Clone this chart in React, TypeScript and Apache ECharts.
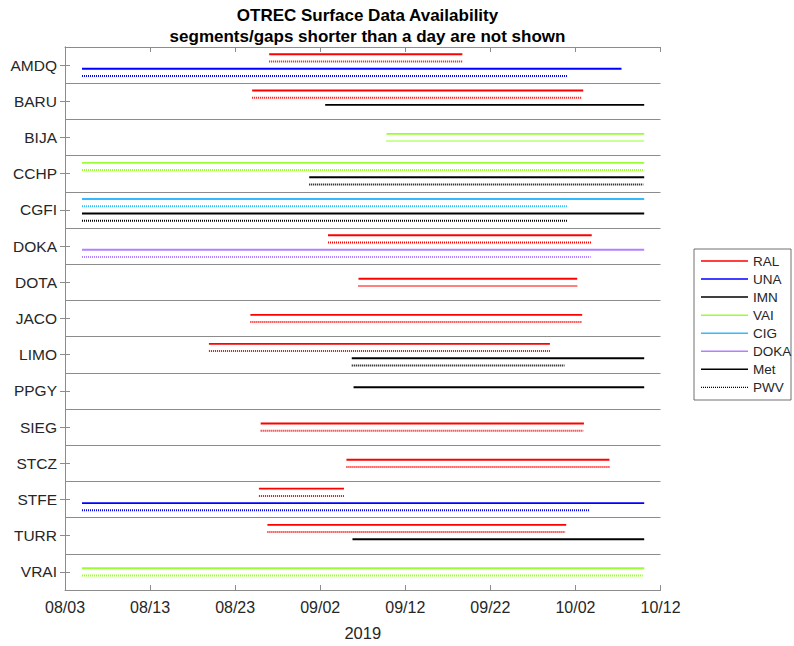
import React, { useEffect, useRef } from "react";
import * as echarts from "echarts";

const FONT = '"Liberation Sans", Arial, Helvetica, sans-serif';

const STATIONS = ["AMDQ", "BARU", "BIJA", "CCHP", "CGFI", "DOKA", "DOTA", "JACO", "LIMO", "PPGY", "SIEG", "STCZ", "STFE", "TURR", "VRAI"];
const OPERATORS = ["RAL", "UNA", "IMN", "VAI", "CIG", "DOKA"];
const OPERATOR_COLORS = ["#ff0000", "#0000ff", "#000000", "#99ff33", "#33bbff", "#b380ff"];
const KINDS = ["Met", "PWV"];
const X_TICK_START = "2019-08-03 00:00";
const X_TICK_END = "2019-10-12 00:00";
const X_NAME = "2019";
const TITLE = "OTREC Surface Data Availability\nsegments/gaps shorter than a day are not shown";

// [operator, kind, start, end]
const AMDQ = [
  ["RAL", "Met", "2019-08-27 00:00", "2019-09-18 17:00"],
  ["RAL", "PWV", "2019-08-27 00:00", "2019-09-18 17:00"],
  ["UNA", "Met", "2019-08-05 00:00", "2019-10-07 10:00"],
  ["UNA", "PWV", "2019-08-05 00:00", "2019-10-01 02:00"],
];
const BARU = [
  ["RAL", "Met", "2019-08-25 00:00", "2019-10-02 22:00"],
  ["RAL", "PWV", "2019-08-25 00:00", "2019-10-02 19:00"],
  ["IMN", "Met", "2019-09-02 14:00", "2019-10-10 02:00"],
];
const BIJA = [
  ["VAI", "Met", "2019-09-09 19:00", "2019-10-10 02:00"],
  ["VAI", "PWV", "2019-09-09 19:00", "2019-10-10 02:00"],
];
const CCHP = [
  ["VAI", "Met", "2019-08-05 00:00", "2019-10-10 02:00"],
  ["VAI", "PWV", "2019-08-05 00:00", "2019-10-10 02:00"],
  ["IMN", "Met", "2019-08-31 17:00", "2019-10-10 02:00"],
  ["IMN", "PWV", "2019-08-31 17:00", "2019-10-10 00:00"],
];
const CGFI = [
  ["CIG", "Met", "2019-08-05 00:00", "2019-10-10 02:00"],
  ["CIG", "PWV", "2019-08-05 00:00", "2019-10-01 00:00"],
  ["IMN", "Met", "2019-08-05 00:00", "2019-10-10 02:00"],
  ["IMN", "PWV", "2019-08-05 00:00", "2019-10-01 02:00"],
];
const DOKA = [
  ["RAL", "Met", "2019-09-02 22:00", "2019-10-03 22:00"],
  ["RAL", "PWV", "2019-09-02 22:00", "2019-10-03 22:00"],
  ["DOKA", "Met", "2019-08-05 00:00", "2019-10-10 02:00"],
  ["DOKA", "PWV", "2019-08-05 00:00", "2019-10-03 19:00"],
];
const DOTA = [
  ["RAL", "Met", "2019-09-06 12:00", "2019-10-02 05:00"],
  ["RAL", "PWV", "2019-09-06 12:00", "2019-10-02 05:00"],
];
const JACO = [
  ["RAL", "Met", "2019-08-24 19:00", "2019-10-02 19:00"],
  ["RAL", "PWV", "2019-08-24 19:00", "2019-10-02 19:00"],
];
const LIMO = [
  ["RAL", "Met", "2019-08-19 22:00", "2019-09-29 00:00"],
  ["RAL", "PWV", "2019-08-19 22:00", "2019-09-29 00:00"],
  ["IMN", "Met", "2019-09-05 17:00", "2019-10-10 02:00"],
  ["IMN", "PWV", "2019-09-05 17:00", "2019-09-30 17:00"],
];
const PPGY = [
  ["IMN", "Met", "2019-09-05 22:00", "2019-10-10 02:00"],
];
const SIEG = [
  ["RAL", "Met", "2019-08-26 00:00", "2019-10-03 00:00"],
  ["RAL", "PWV", "2019-08-26 00:00", "2019-10-02 22:00"],
];
const STCZ = [
  ["RAL", "Met", "2019-09-05 02:00", "2019-10-06 00:00"],
  ["RAL", "PWV", "2019-09-05 02:00", "2019-10-06 00:00"],
];
const STFE = [
  ["RAL", "Met", "2019-08-25 19:00", "2019-09-04 19:00"],
  ["RAL", "PWV", "2019-08-25 19:00", "2019-09-04 19:00"],
  ["UNA", "Met", "2019-08-05 00:00", "2019-10-10 02:00"],
  ["UNA", "PWV", "2019-08-05 00:00", "2019-10-03 17:00"],
];
const TURR = [
  ["RAL", "Met", "2019-08-26 19:00", "2019-09-30 22:00"],
  ["RAL", "PWV", "2019-08-26 19:00", "2019-09-30 20:00"],
  ["IMN", "Met", "2019-09-05 19:00", "2019-10-10 02:00"],
];
const VRAI = [
  ["VAI", "Met", "2019-08-05 00:00", "2019-10-10 02:00"],
  ["VAI", "PWV", "2019-08-05 00:00", "2019-10-09 22:00"],
];

const SEGMENTS_BY_STATION: Record<string, string[][]> = {
  AMDQ, BARU, BIJA, CCHP, CGFI, DOKA, DOTA, JACO, LIMO, PPGY, SIEG, STCZ, STFE, TURR, VRAI,
};

const DAY = 86400000;
function toMs(s: string) {
  const [d, t] = s.split(" ");
  const [y, m, dd] = d.split("-").map(Number);
  const [hh, mm] = (t || "00:00").split(":").map(Number);
  return Date.UTC(y, m - 1, dd, hh, mm);
}
const ORIGIN = toMs(X_TICK_START);
const toDay = (s: string) => (toMs(s) - ORIGIN) / DAY;
const X_MAX = toDay(X_TICK_END);
const pad = (n: number) => (n < 10 ? "0" + n : "" + n);
const fmtDay = (v: number) => {
  const d = new Date(ORIGIN + v * DAY);
  return pad(d.getUTCMonth() + 1) + "/" + pad(d.getUTCDate());
};

function buildData() {
  const rows: number[][] = [];
  STATIONS.forEach((st, rowIdx) => {
    const segs = SEGMENTS_BY_STATION[st] || [];
    const ops: string[] = [];
    segs.forEach((s) => { if (!ops.includes(s[0])) ops.push(s[0]); });
    segs.forEach((s) => {
      const opPos = ops.indexOf(s[0]);
      const kindIdx = KINDS.indexOf(s[1]);
      const slot = opPos * 2 + kindIdx;
      const nSlots = ops.length * 2;
      const offset = (slot - (nSlots - 1) / 2) * 0.2;
      rows.push([toDay(s[2]), toDay(s[3]), rowIdx, offset, OPERATORS.indexOf(s[0]), kindIdx]);
    });
  });
  return rows;
}

const AXIS_GRAY = "#8c8c8c";
const TEXT_COLOR = "#262626";

export default function App() {
  const ref = useRef<HTMLDivElement>(null);
  useEffect(() => {
    if (!ref.current) return;
    const chart = echarts.init(ref.current, null, { renderer: "svg" });
    const data = buildData();

    const legendItems: { name: string; color: string; dash: boolean }[] = [
      ...OPERATORS.map((o, i) => ({ name: o, color: OPERATOR_COLORS[i], dash: false })),
      ...KINDS.map((k) => ({ name: k, color: "#000000", dash: k === "PWV" })),
    ];
    const lx = 694, ly = 249, lw = 97, lh = 151;
    const legendChildren: any[] = [
      { type: "rect", shape: { x: lx, y: ly, width: lw, height: lh }, style: { fill: "#fff", stroke: "#4d4d4d", lineWidth: 0.8 } },
    ];
    legendItems.forEach((it, i) => {
      const y = 261 + i * 18.05;
      legendChildren.push({
        type: "line",
        shape: { x1: 701, y1: y, x2: 748, y2: y },
        style: { stroke: it.color, lineWidth: it.dash ? 1.4 : 1.5, lineDash: it.dash ? [1, 1] : null },
      });
      legendChildren.push({
        type: "text",
        x: 753, y: y,
        style: { text: it.name, fill: TEXT_COLOR, font: `13.5px ${FONT}`, verticalAlign: "middle", align: "left" },
      });
    });

    const xCommon = {
      type: "value",
      min: 0,
      max: X_MAX,
      interval: 10,
      splitLine: { show: false },
      axisLine: { show: true, onZero: false, lineStyle: { color: AXIS_GRAY, width: 1 } },
      axisTick: { show: true, inside: true, length: 5, lineStyle: { color: AXIS_GRAY } },
    };
    const yCommon = {
      type: "category",
      data: STATIONS,
      inverse: true,
      axisLine: { show: true, lineStyle: { color: AXIS_GRAY, width: 1 } },
      axisTick: { show: true, inside: true, length: 5, alignWithLabel: true, interval: 0, lineStyle: { color: AXIS_GRAY } },
    };

    chart.setOption({
      animation: false,
      backgroundColor: "#ffffff",
      textStyle: { fontFamily: FONT },
      title: {
        text: TITLE,
        left: 362.5,
        top: 0,
        textAlign: "center",
        textStyle: { fontFamily: FONT, fontSize: 17, fontWeight: "bold", color: "#000", lineHeight: 21 },
      },
      grid: { left: 65, top: 47, width: 595.5, height: 555 },
      xAxis: [
        {
          ...xCommon,
          position: "bottom",
          name: X_NAME,
          nameLocation: "middle",
          nameGap: 34,
          nameTextStyle: { fontFamily: FONT, fontSize: 16.5, color: TEXT_COLOR },
          axisLabel: { show: true, formatter: (v: number) => fmtDay(v), fontFamily: FONT, fontSize: 16, color: TEXT_COLOR, margin: 9, showMinLabel: true, showMaxLabel: true },
        },
        { ...xCommon, position: "top", axisLabel: { show: false } },
      ],
      yAxis: [
        {
          ...yCommon,
          position: "left",
          axisLabel: { show: true, interval: 0, fontFamily: FONT, fontSize: 15.5, color: TEXT_COLOR, margin: 8 },
          splitLine: { show: true, interval: 0, lineStyle: { color: AXIS_GRAY, width: 1 } },
        },
        {
          ...yCommon,
          position: "right",
          axisLabel: { show: false },
          splitLine: { show: false },
        },
      ],
      series: [
        {
          type: "custom",
          xAxisIndex: 0,
          yAxisIndex: 0,
          encode: { x: [0, 1], y: 2 },
          data,
          renderItem: (params: any, api: any) => {
            const row = api.value(2);
            const s = api.coord([api.value(0), row]);
            const e = api.coord([api.value(1), row]);
            const band = api.size([0, 1])[1];
            const off = api.value(3) * band;
            const op = api.value(4);
            const dotted = api.value(5) === 1;
            return {
              type: "line",
              shape: { x1: s[0], y1: s[1] + off, x2: e[0], y2: e[1] + off },
              style: {
                stroke: OPERATOR_COLORS[op],
                lineWidth: dotted ? 2 : 1.9,
                lineDash: dotted ? [1, 1] : null,
                lineCap: "butt",
              },
            };
          },
        },
      ],
      graphic: [{ type: "group", children: legendChildren }],
    });
    return () => chart.dispose();
  }, []);
  return <div ref={ref} style={{ position: "fixed", left: 0, top: 0, width: 794, height: 646 }} />;
}
